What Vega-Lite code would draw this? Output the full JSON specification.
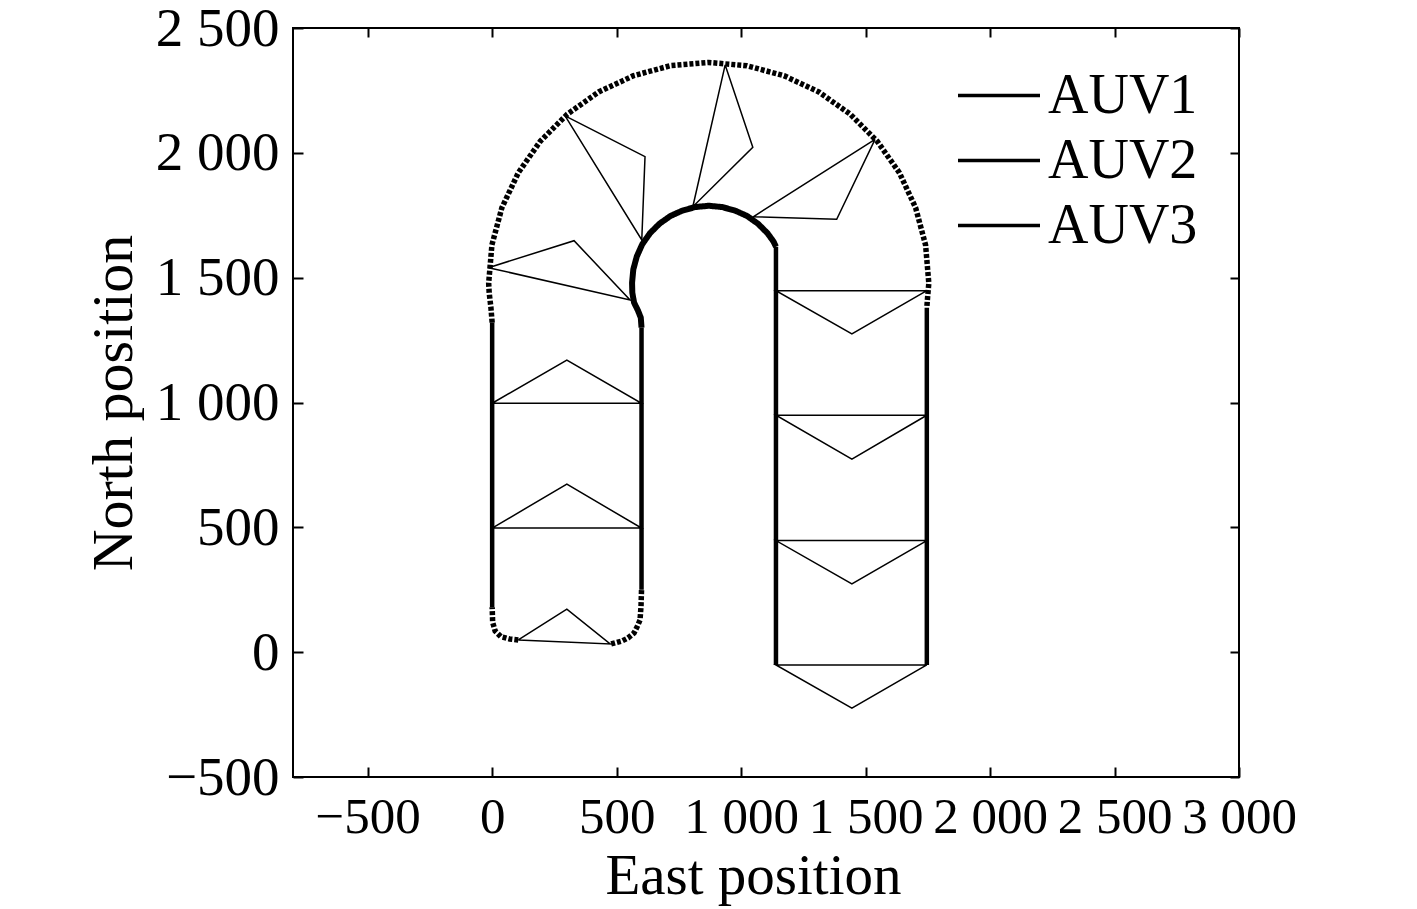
{
  "$schema": "https://vega.github.io/schema/vega-lite/v6.json",
  "autosize": {"type": "none"},
  "width": 946,
  "height": 749,
  "padding": {"left": 293, "top": 28, "right": 178, "bottom": 132},
  "background": "white",
  "config": {
    "view": {"stroke": "black", "strokeWidth": 2},
    "font": "Liberation Serif"
  },
  "datasets": {
    "paths": [
      {"series": "AUV1", "leg": 1, "phase": "start", "i": 1, "x": 105, "y": 49},
      {"series": "AUV1", "leg": 1, "phase": "start", "i": 2, "x": 70, "y": 53},
      {"series": "AUV1", "leg": 1, "phase": "start", "i": 3, "x": 35, "y": 62},
      {"series": "AUV1", "leg": 1, "phase": "start", "i": 4, "x": 12, "y": 85},
      {"series": "AUV1", "leg": 1, "phase": "start", "i": 5, "x": 2, "y": 120},
      {"series": "AUV1", "leg": 1, "phase": "start", "i": 6, "x": 0, "y": 180},
      {"series": "AUV1", "leg": 2, "phase": "straight", "i": 7, "x": 0, "y": 180},
      {"series": "AUV1", "leg": 2, "phase": "straight", "i": 8, "x": 0, "y": 1320},
      {"series": "AUV1", "leg": 3, "phase": "turn", "i": 9, "x": 0, "y": 1320},
      {"series": "AUV1", "leg": 3, "phase": "turn", "i": 10, "x": -5, "y": 1380},
      {"series": "AUV1", "leg": 3, "phase": "turn", "i": 11, "x": -12, "y": 1440},
      {"series": "AUV1", "leg": 3, "phase": "turn", "i": 12, "x": -14, "y": 1478},
      {"series": "AUV1", "leg": 3, "phase": "turn", "i": 13, "x": -1, "y": 1631},
      {"series": "AUV1", "leg": 3, "phase": "turn", "i": 14, "x": 39, "y": 1780},
      {"series": "AUV1", "leg": 3, "phase": "turn", "i": 15, "x": 105, "y": 1920},
      {"series": "AUV1", "leg": 3, "phase": "turn", "i": 16, "x": 193, "y": 2046},
      {"series": "AUV1", "leg": 3, "phase": "turn", "i": 17, "x": 302, "y": 2155},
      {"series": "AUV1", "leg": 3, "phase": "turn", "i": 18, "x": 428, "y": 2244},
      {"series": "AUV1", "leg": 3, "phase": "turn", "i": 19, "x": 568, "y": 2309},
      {"series": "AUV1", "leg": 3, "phase": "turn", "i": 20, "x": 716, "y": 2349},
      {"series": "AUV1", "leg": 3, "phase": "turn", "i": 21, "x": 870, "y": 2362},
      {"series": "AUV1", "leg": 3, "phase": "turn", "i": 22, "x": 1023, "y": 2349},
      {"series": "AUV1", "leg": 3, "phase": "turn", "i": 23, "x": 1172, "y": 2309},
      {"series": "AUV1", "leg": 3, "phase": "turn", "i": 24, "x": 1312, "y": 2244},
      {"series": "AUV1", "leg": 3, "phase": "turn", "i": 25, "x": 1438, "y": 2155},
      {"series": "AUV1", "leg": 3, "phase": "turn", "i": 26, "x": 1547, "y": 2046},
      {"series": "AUV1", "leg": 3, "phase": "turn", "i": 27, "x": 1636, "y": 1920},
      {"series": "AUV1", "leg": 3, "phase": "turn", "i": 28, "x": 1701, "y": 1780},
      {"series": "AUV1", "leg": 3, "phase": "turn", "i": 29, "x": 1741, "y": 1631},
      {"series": "AUV1", "leg": 3, "phase": "turn", "i": 30, "x": 1754, "y": 1478},
      {"series": "AUV1", "leg": 3, "phase": "turn", "i": 31, "x": 1749, "y": 1420},
      {"series": "AUV1", "leg": 3, "phase": "turn", "i": 32, "x": 1746, "y": 1380},
      {"series": "AUV1", "leg": 4, "phase": "straight", "i": 33, "x": 1746, "y": 1380},
      {"series": "AUV1", "leg": 4, "phase": "straight", "i": 34, "x": 1746, "y": -51},
      {"series": "AUV2", "leg": 1, "phase": "start", "i": 1, "x": 478, "y": 33},
      {"series": "AUV2", "leg": 1, "phase": "start", "i": 2, "x": 522, "y": 45},
      {"series": "AUV2", "leg": 1, "phase": "start", "i": 3, "x": 546, "y": 57},
      {"series": "AUV2", "leg": 1, "phase": "start", "i": 4, "x": 570, "y": 77},
      {"series": "AUV2", "leg": 1, "phase": "start", "i": 5, "x": 582, "y": 101},
      {"series": "AUV2", "leg": 1, "phase": "start", "i": 6, "x": 594, "y": 129},
      {"series": "AUV2", "leg": 1, "phase": "start", "i": 7, "x": 598, "y": 185},
      {"series": "AUV2", "leg": 1, "phase": "start", "i": 8, "x": 600, "y": 250},
      {"series": "AUV2", "leg": 2, "phase": "straight", "i": 9, "x": 600, "y": 250},
      {"series": "AUV2", "leg": 2, "phase": "straight", "i": 10, "x": 600, "y": 1300},
      {"series": "AUV2", "leg": 3, "phase": "turn", "i": 11, "x": 600, "y": 1300},
      {"series": "AUV2", "leg": 3, "phase": "turn", "i": 12, "x": 597, "y": 1340},
      {"series": "AUV2", "leg": 3, "phase": "turn", "i": 13, "x": 585, "y": 1370},
      {"series": "AUV2", "leg": 3, "phase": "turn", "i": 14, "x": 570, "y": 1400},
      {"series": "AUV2", "leg": 3, "phase": "turn", "i": 15, "x": 563, "y": 1440},
      {"series": "AUV2", "leg": 3, "phase": "turn", "i": 16, "x": 562, "y": 1480},
      {"series": "AUV2", "leg": 3, "phase": "turn", "i": 17, "x": 567, "y": 1533},
      {"series": "AUV2", "leg": 3, "phase": "turn", "i": 18, "x": 581, "y": 1585},
      {"series": "AUV2", "leg": 3, "phase": "turn", "i": 19, "x": 603, "y": 1634},
      {"series": "AUV2", "leg": 3, "phase": "turn", "i": 20, "x": 634, "y": 1678},
      {"series": "AUV2", "leg": 3, "phase": "turn", "i": 21, "x": 672, "y": 1716},
      {"series": "AUV2", "leg": 3, "phase": "turn", "i": 22, "x": 716, "y": 1747},
      {"series": "AUV2", "leg": 3, "phase": "turn", "i": 23, "x": 765, "y": 1769},
      {"series": "AUV2", "leg": 3, "phase": "turn", "i": 24, "x": 817, "y": 1783},
      {"series": "AUV2", "leg": 3, "phase": "turn", "i": 25, "x": 870, "y": 1788},
      {"series": "AUV2", "leg": 3, "phase": "turn", "i": 26, "x": 923, "y": 1783},
      {"series": "AUV2", "leg": 3, "phase": "turn", "i": 27, "x": 975, "y": 1769},
      {"series": "AUV2", "leg": 3, "phase": "turn", "i": 28, "x": 1024, "y": 1747},
      {"series": "AUV2", "leg": 3, "phase": "turn", "i": 29, "x": 1068, "y": 1716},
      {"series": "AUV2", "leg": 3, "phase": "turn", "i": 30, "x": 1106, "y": 1678},
      {"series": "AUV2", "leg": 3, "phase": "turn", "i": 31, "x": 1130, "y": 1645},
      {"series": "AUV2", "leg": 3, "phase": "turn", "i": 32, "x": 1140, "y": 1624},
      {"series": "AUV2", "leg": 4, "phase": "straight", "i": 33, "x": 1140, "y": 1624},
      {"series": "AUV2", "leg": 4, "phase": "straight", "i": 34, "x": 1140, "y": -51}
    ],
    "formation": [
      {"snap": 1, "k": 1, "x": 105, "y": 49}, {"snap": 1, "k": 2, "x": 300, "y": 172}, {"snap": 1, "k": 3, "x": 474, "y": 33}, {"snap": 1, "k": 4, "x": 105, "y": 49},
      {"snap": 2, "k": 1, "x": 0, "y": 497}, {"snap": 2, "k": 2, "x": 300, "y": 673}, {"snap": 2, "k": 3, "x": 600, "y": 497}, {"snap": 2, "k": 4, "x": 0, "y": 497},
      {"snap": 3, "k": 1, "x": 0, "y": 997}, {"snap": 3, "k": 2, "x": 300, "y": 1170}, {"snap": 3, "k": 3, "x": 600, "y": 997}, {"snap": 3, "k": 4, "x": 0, "y": 997},
      {"snap": 4, "k": 1, "x": -15, "y": 1540}, {"snap": 4, "k": 2, "x": 329, "y": 1648}, {"snap": 4, "k": 3, "x": 554, "y": 1411}, {"snap": 4, "k": 4, "x": -15, "y": 1540},
      {"snap": 5, "k": 1, "x": 293, "y": 2148}, {"snap": 5, "k": 2, "x": 614, "y": 1985}, {"snap": 5, "k": 3, "x": 601, "y": 1651}, {"snap": 5, "k": 4, "x": 293, "y": 2148},
      {"snap": 6, "k": 1, "x": 936, "y": 2352}, {"snap": 6, "k": 2, "x": 1047, "y": 2022}, {"snap": 6, "k": 3, "x": 806, "y": 1784}, {"snap": 6, "k": 4, "x": 936, "y": 2352},
      {"snap": 7, "k": 1, "x": 1538, "y": 2054}, {"snap": 7, "k": 2, "x": 1384, "y": 1734}, {"snap": 7, "k": 3, "x": 1049, "y": 1744}, {"snap": 7, "k": 4, "x": 1538, "y": 2054},
      {"snap": 8, "k": 1, "x": 1746, "y": 1448}, {"snap": 8, "k": 2, "x": 1445, "y": 1275}, {"snap": 8, "k": 3, "x": 1140, "y": 1448}, {"snap": 8, "k": 4, "x": 1746, "y": 1448},
      {"snap": 9, "k": 1, "x": 1746, "y": 949}, {"snap": 9, "k": 2, "x": 1445, "y": 773}, {"snap": 9, "k": 3, "x": 1140, "y": 949}, {"snap": 9, "k": 4, "x": 1746, "y": 949},
      {"snap": 10, "k": 1, "x": 1746, "y": 447}, {"snap": 10, "k": 2, "x": 1445, "y": 273}, {"snap": 10, "k": 3, "x": 1140, "y": 447}, {"snap": 10, "k": 4, "x": 1746, "y": 447},
      {"snap": 11, "k": 1, "x": 1746, "y": -51}, {"snap": 11, "k": 2, "x": 1445, "y": -224}, {"snap": 11, "k": 3, "x": 1140, "y": -51}, {"snap": 11, "k": 4, "x": 1746, "y": -51}
    ]
  },
  "resolve": {"axis": {"x": "independent", "y": "independent"}},
  "layer": [
    {
      "data": {"name": "formation"},
      "mark": {"type": "line", "color": "black", "strokeWidth": 1.5, "clip": true},
      "encoding": {
        "x": {
          "field": "x", "type": "quantitative",
          "scale": {"domain": [-800, 3000], "nice": false, "zero": false},
          "axis": {"orient": "top", "values": [-500, 0, 500, 1000, 1500, 2000, 2500, 3000], "labels": false, "title": null, "domain": false, "grid": false, "tickSize": -9, "tickWidth": 2, "tickColor": "black"}
        },
        "y": {
          "field": "y", "type": "quantitative",
          "scale": {"domain": [-500, 2500], "nice": false, "zero": false},
          "axis": {"orient": "right", "values": [-500, 0, 500, 1000, 1500, 2000, 2500], "labels": false, "title": null, "domain": false, "grid": false, "tickSize": -9, "tickWidth": 2, "tickColor": "black"}
        },
        "detail": {"field": "snap", "type": "nominal"},
        "order": {"field": "k", "type": "quantitative"}
      }
    },
    {
      "data": {"name": "paths"},
      "mark": {"type": "line", "clip": true},
      "encoding": {
        "x": {
          "field": "x", "type": "quantitative",
          "axis": {
            "orient": "bottom", "title": "East position",
            "values": [-500, 0, 500, 1000, 1500, 2000, 2500, 3000],
            "labelExpr": "replace(format(datum.value, ','), ',', ' ')",
            "domain": false, "grid": false,
            "tickSize": -10, "tickWidth": 2, "tickColor": "black",
            "labelFont": "Liberation Serif", "labelFontSize": 51, "labelColor": "black", "labelPadding": 25,
            "labelOverlap": false, "labelFlush": false,
            "titleFont": "Liberation Serif", "titleFontSize": 57, "titleFontWeight": "normal", "titleColor": "black", "titlePadding": 6,
            "titleX": 460
          }
        },
        "y": {
          "field": "y", "type": "quantitative",
          "axis": {
            "orient": "left", "title": "North position",
            "values": [-500, 0, 500, 1000, 1500, 2000, 2500],
            "labelExpr": "replace(format(datum.value, ','), ',', ' ')",
            "domain": false, "grid": false,
            "tickSize": -10, "tickWidth": 2, "tickColor": "black",
            "labelFont": "Liberation Serif", "labelFontSize": 55, "labelColor": "black", "labelPadding": 24,
            "labelOverlap": false, "labelFlush": false,
            "titleFont": "Liberation Serif", "titleFontSize": 58, "titleFontWeight": "normal", "titleColor": "black", "titlePadding": 12
          }
        },
        "color": {
          "field": "series", "type": "nominal",
          "scale": {"domain": ["AUV1", "AUV2", "AUV3"], "range": ["black", "black", "black"]},
          "legend": {
            "orient": "none", "legendX": 663, "legendY": 35, "title": null,
            "symbolType": "stroke", "symbolSize": 6724, "symbolStrokeWidth": 3.5, "symbolStrokeColor": "black",
            "labelFont": "Liberation Serif", "labelFontSize": 56, "labelColor": "black", "labelOffset": 6,
            "clipHeight": 65, "rowPadding": 0
          }
        },
        "detail": {"field": "leg", "type": "nominal"},
        "order": {"field": "i", "type": "quantitative"},
        "strokeDash": {
          "condition": {"test": "datum.phase === 'start' || (datum.phase === 'turn' && datum.series === 'AUV1')", "value": [4, 2]},
          "value": [1, 0]
        },
        "strokeWidth": {
          "condition": [
            {"test": "datum.phase === 'turn' && datum.series === 'AUV2'", "value": 6},
            {"test": "datum.phase === 'start' || datum.phase === 'turn'", "value": 5.5}
          ],
          "value": 4.5
        }
      }
    }
  ]
}
